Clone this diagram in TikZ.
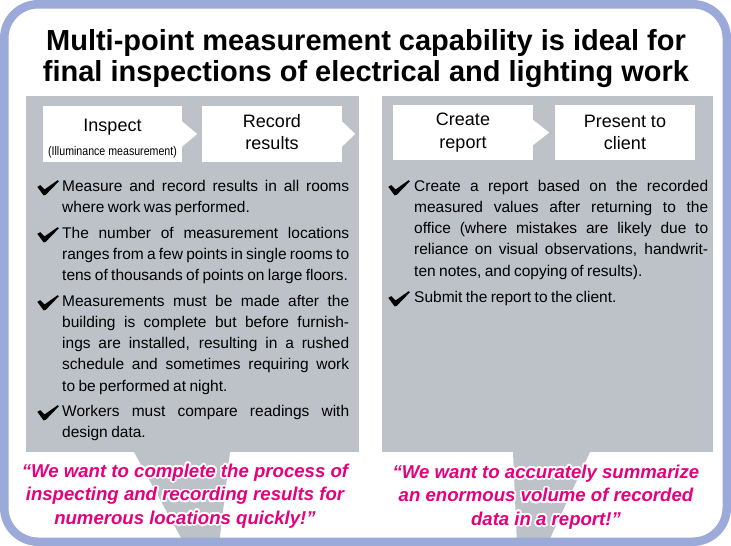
\documentclass[tikz,border=0pt]{standalone}
\usepackage{fontspec}
\usepackage{graphicx}
\setmainfont{Liberation Sans}
\definecolor{frameblue}{RGB}{155,170,216}
\definecolor{panelgray}{RGB}{188,194,200}
\definecolor{quotemag}{RGB}{229,0,126}
\newcommand\jl[1]{\hbox to\hsize{#1}}
\newcommand\bodybox[2]{\vtop{\hsize=#1\fontsize{15.5}{21.3}\selectfont
  \spaceskip=0.22em plus 0.6em minus 0.05em\relax #2}}
\tikzset{
  panel/.style={fill=panelgray, draw=none},
  stepbox/.style={fill=white, draw=none, minimum width=140pt, minimum height=56pt, inner sep=0pt},
  steptext/.style={align=center, inner sep=0pt, font=\fontsize{18}{22.5}\selectfont},
  bodytext/.style={anchor=base west, inner sep=0pt},
  quotetext/.style={align=center, inner sep=0pt,
    font=\fontsize{18.6}{23.5}\selectfont\bfseries\itshape},
  chk/.pic={\fill[black] (0.3,-4.2) -- (3.2,-5.8) -- (7.6,-1.6) -- (20.6,-10.8) -- (21.9,-9.8)
     -- (8.8,3.8) -- (6.6,4.4) -- cycle;}
}
\begin{document}
\begin{tikzpicture}[x=1pt,y=-1pt]
\useasboundingbox (0,0) rectangle (731,546);
\fill[white] (0,0) rectangle (731,546);
% funnels
\fill[panelgray] (134,452) -- (230,452) -- (219,545) -- (185,545) -- cycle;
\fill[panelgray] (513,452) -- (590,452) -- (547,545) -- (517,545) -- cycle;
% panels
\fill[panel] (26,96) rectangle (359,452);
\fill[panel] (382,96) rectangle (713,452);
% title
\node[font=\fontsize{29}{31}\selectfont\bfseries, align=center, inner sep=0pt] (title) at (366,59)
  {Multi-point measurement capability is ideal for\\final inspections of electrical and lighting work};
% step boxes
\node[stepbox, minimum width=139pt] (inspect) at (112.5,134) {};
\fill[white] (inspect.east) ++(0,-12.5) -- ++(15,12.5) -- ++(-15,12.5) -- cycle;
\node[stepbox] (record) at (272,134) {};
\fill[white] (record.east) ++(0,-12.5) -- ++(13,12.5) -- ++(-13,12.5) -- cycle;
\node[stepbox, minimum height=55pt] (create) at (463,132.5) {};
\fill[white] (create.east) ++(0,-12.5) -- ++(16,12.5) -- ++(-16,12.5) -- cycle;
\node[stepbox, minimum height=55pt] (present) at (625,132.5) {};
\node[steptext] (inspectlabel) at ([yshift=-5pt]inspect.center)
  {Inspect\\[1.5pt]\scalebox{0.85}[1]{\fontsize{12.5}{13}\selectfont (Illuminance measurement)}};
\node[steptext] (recordlabel) at (272,132) {Record\\results};
\node[steptext] (createlabel) at (463,132.5) {Create\\report};
\node[steptext] (presentlabel) at (625,132.5) {Present to\\client};
% left items
\node[bodytext] (l1) at (62,191) {\bodybox{287pt}{%
  \jl{Measure and record results in all rooms}
  \hbox{where work was performed.}}};
\node[bodytext] (l2) at (62,238) {\bodybox{287pt}{%
  \jl{The number of measurement locations}
  \jl{ranges from a few points in single rooms to}
  \hbox{tens of thousands of points on large floors.}}};
\node[bodytext] (l3) at (62,306) {\bodybox{287pt}{%
  \jl{Measurements must be made after the}
  \jl{building is complete but before furnish-}
  \jl{ings are installed, resulting in a rushed}
  \jl{schedule and sometimes requiring work}
  \hbox{to be performed at night.}}};
\node[bodytext] (l4) at (62,416) {\bodybox{287pt}{%
  \jl{Workers must compare readings with}
  \hbox{design data.}}};
\foreach \n in {l1,l2,l3,l4} {\pic at ([xshift=-25pt]\n.base west) {chk};}
% right items
\node[bodytext] (r1) at (414,191) {\bodybox{294pt}{%
  \jl{Create a report based on the recorded}
  \jl{measured values after returning to the}
  \jl{office (where mistakes are likely due to}
  \jl{reliance on visual observations, handwrit-}
  \hbox{ten notes, and copying of results).}}};
\node[bodytext] (r2) at (414,302) {\bodybox{294pt}{%
  \hbox{Submit the report to the client.}}};
\foreach \n in {r1,r2} {\pic at ([xshift=-26pt]\n.base west) {chk};}
% quotes
\foreach \a in {0,22.5,...,337.5} {
  \node[quotetext, text=white] at ([shift={(\a:1.8)}]185,496)
    {“We want to complete the process of\\inspecting and recording results for\\numerous locations quickly!”};
  \node[quotetext, text=white] at ([shift={(\a:1.8)}]546,497)
    {“We want to accurately summarize\\an enormous volume of recorded\\data in a report!”};
}
\node[quotetext, text=quotemag] (q1) at (185,496)
  {“We want to complete the process of\\inspecting and recording results for\\numerous locations quickly!”};
\node[quotetext, text=quotemag] (q2) at (546,497)
  {“We want to accurately summarize\\an enormous volume of recorded\\data in a report!”};
% frame
\draw[frameblue, line width=8.5pt, rounded corners=34pt] (4.25,4.25) rectangle (726.75,541.75);
\end{tikzpicture}
\end{document}
